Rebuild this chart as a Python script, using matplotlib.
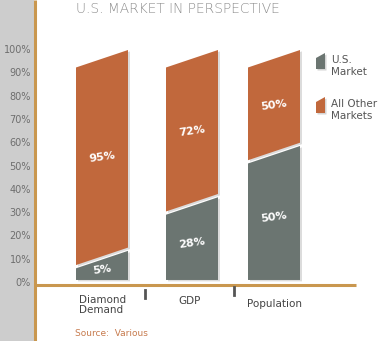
import matplotlib
matplotlib.use("Agg")
import matplotlib.pyplot as plt
from matplotlib.patches import Polygon, Rectangle

# data
categories = ["Diamond\nDemand", "GDP", "Population"]
us_share = [5, 28, 50]
other_share = [95, 72, 50]
yticks = [0, 10, 20, 30, 40, 50, 60, 70, 80, 90, 100]
legend_labels = ["U.S.\nMarket", "All Other\nMarkets"]

# look
grey = "#6b7571"
orange = "#c1683c"
gold = "#c9974f"
panel = "#cdcdcd"
W, H = 390, 341
bar_x = [102, 192, 274]   # pixel centres
bar_w = 52
slant = 7.5   # rise of the bar tops, in %
base = 1.3
gap = 1.4

fig = plt.figure(figsize=(W / 100, H / 100), dpi=100)

# pixel overlay for the decorations
deco = fig.add_axes([0, 0, 1, 1])
deco.set_xlim(0, W)
deco.set_ylim(H, 0)
deco.axis("off")
deco.add_patch(Rectangle((0, 0), 34, H, color=panel, lw=0))
deco.plot([35, 35], [0, H], color=gold, lw=2.2, solid_capstyle="butt")
deco.plot([35, 356], [285, 285], color=gold, lw=2.2, solid_capstyle="butt")
deco.text(76, 9, "U.S. MARKET IN PERSPECTIVE", fontsize=9.9, color="#8c8c8c",
          family="DejaVu Sans", fontweight="light", va="center", ha="left")
for tx, ty in [(145, 294), (234, 291)]:
    deco.plot([tx, tx], [ty - 4, ty + 4], color="#555555", lw=2)
deco.text(75, 333, "Source:  Various", fontsize=6.5, color="#c77b4e", va="center")

# legend swatches
for (y_top, col, lab) in [(53, grey, legend_labels[0]), (97, orange, legend_labels[1])]:
    sw = [(316, y_top + 5), (325, y_top), (325, y_top + 16), (316, y_top + 16)]
    deco.add_patch(Polygon([(x + 1.5, y + 1.5) for x, y in sw], color="#d5d5d5", lw=0))
    deco.add_patch(Polygon(sw, color=col, lw=0))
    deco.text(331, y_top + 13, lab, fontsize=7.5, color="#555555", va="center",
              ha="left", linespacing=1.3)

# bar axes, % scale
ax = fig.add_axes([35 / W, (H - 283) / H, (W - 35) / W, 233 / H])
ax.set_xlim(35, W)
ax.set_ylim(0, 100)
ax.axis("off")

for cx, us, oth, cat in zip(bar_x, us_share, other_share, categories):
    x0, x1 = cx - bar_w / 2, cx + bar_w / 2
    g_l, g_r = base + us, base + us + slant
    o_l, o_r = g_l + gap, g_r + gap
    t_l, t_r = 100 - slant, 100
    grey_poly = [(x0, base), (x1, base), (x1, g_r), (x0, g_l)]
    or_poly = [(x0, o_l), (x1, o_r), (x1, t_r), (x0, t_l)]
    for poly in (grey_poly, or_poly):
        ax.add_patch(Polygon([(x + 2, y - 0.6) for x, y in poly], color="#dcdcdc", lw=0, zorder=1))
    ax.add_patch(Polygon(grey_poly, color=grey, lw=0, zorder=2))
    ax.add_patch(Polygon(or_poly, color=orange, lw=0, zorder=2))
    ax.text(cx, (base + (g_l + g_r) / 2) / 2, f"{us}%", color="white", fontsize=8,
            fontweight="bold", ha="center", va="center", rotation=8, zorder=3)
    ax.text(cx, ((o_l + o_r) / 2 + (t_l + t_r) / 2) / 2, f"{oth}%", color="white",
            fontsize=8, fontweight="bold", ha="center", va="center", rotation=8, zorder=3)

# x labels
ax.text(bar_x[0] - 23, -5, categories[0], fontsize=7.5, color="#444444", ha="left",
        va="top", linespacing=1.05, clip_on=False)
ax.text(bar_x[1] - 2, -5.5, categories[1], fontsize=7.5, color="#444444", ha="center",
        va="top", clip_on=False)
ax.text(bar_x[2], -6.7, categories[2], fontsize=7.5, color="#444444", ha="center",
        va="top", clip_on=False)

# y tick labels in the grey panel
for v in yticks:
    ax.text(31, v, f"{v}%", fontsize=7, color="#6e6e6e", ha="right", va="center",
            clip_on=False)

fig.savefig("out.png", dpi=100)
